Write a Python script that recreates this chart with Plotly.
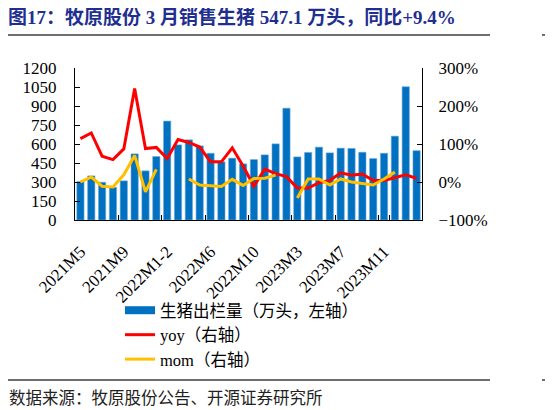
import plotly.graph_objects as go

# data
months = ["2021M5", "2021M6", "2021M7", "2021M8", "2021M9", "2021M10", "2021M11", "2021M12",
          "2022M1-2", "2022M3", "2022M4", "2022M5", "2022M6", "2022M7", "2022M8", "2022M9",
          "2022M10", "2022M11", "2022M12", "2023M1-2", "2023M3", "2023M4", "2023M5", "2023M6",
          "2023M7", "2023M8", "2023M9", "2023M10", "2023M11", "2023M12", "2024M1-2", "2024M3"]
sales = [303, 348, 298, 258, 309, 522, 388, 501, 781, 593, 633, 585, 527, 459, 488, 443,
         477, 514, 601, 883, 498, 533, 575, 530, 567, 565, 535, 485, 527, 662, 1052, 547.1]
yoy = [114, 129, 68, 59, 87, 246, 88, 91, 62, 112, 104, 92, 53, 53, 90, 42,
       -11, 34, 22, 14, -16, -16, -2, 4, 24, 18, 21, 4, 4, 12, 19, 9.4]
mom = [0, 13, -11, -13, 19, 70, -26, 33, None, None, 8, -8, -10, -12, 7, -9,
       9, 10, 18, None, -42, 8, 8, -8, 8, 0, -4, -8, 8, 26, None, None]
x_labels = months[::4]

title = "图17：牧原股份 3 月销售生猪 547.1 万头，同比+9.4%"
source = "数据来源：牧原股份公告、开源证券研究所"

serif = "Liberation Serif, Noto Sans CJK SC"
blue = "#0070C0"
red = "#FF0000"
gold = "#FFC000"

# page has an 8px body margin, so the figure is drawn 8px smaller and shifted
OFF = 8
W, H = 553 - OFF, 410 - OFF
L, T = 75 - OFF, 68 - OFF
pw, ph = 347, 152
R, B = W - L - pw, H - T - ph


def px(x):
    # page pixel -> paper x
    return (x - OFF - L) / pw


def py(y):
    # page pixel -> paper y
    return (T + ph - (y - OFF)) / ph


fig = go.Figure()
fig.add_trace(go.Bar(x=months, y=sales, marker=dict(color=blue, line=dict(color="#6FA8DC", width=0.6)),
                     showlegend=False, yaxis="y"))
fig.add_trace(go.Scatter(x=[None], y=[None], mode="lines", line=dict(color=blue, width=8),
                         name="生猪出栏量（万头，左轴）"))
fig.add_trace(go.Scatter(x=months, y=yoy, mode="lines", line=dict(color=red, width=3),
                         name="yoy（右轴）", yaxis="y2"))
fig.add_trace(go.Scatter(x=months, y=mom, mode="lines", line=dict(color=gold, width=3),
                         name="mom（右轴）", yaxis="y2", connectgaps=False))

fig.update_layout(
    width=W, height=H,
    margin=dict(l=L, r=R, t=T, b=B),
    paper_bgcolor="white", plot_bgcolor="white",
    font=dict(family=serif, size=17, color="black"),
    bargap=0.33,
    title=dict(text=title, x=(8 - OFF) / W, xanchor="left", y=1 - (17 - OFF) / H, yanchor="middle",
               xref="container", yref="container",
               font=dict(family=serif, size=19, color="#1F2F8F", weight="bold")),
    xaxis=dict(type="category", tickmode="array", tickvals=x_labels, ticktext=x_labels,
               tickangle=-45, tickson="boundaries", ticks="inside", ticklen=5,
               tickcolor="black", showline=True, linecolor="black", linewidth=1,
               showgrid=False, tickfont=dict(size=17), ticklabelstandoff=14),
    yaxis=dict(range=[0, 1200], dtick=150, ticks="inside", ticklen=5, tickcolor="black",
               showline=True, linecolor="black", linewidth=1, showgrid=False,
               zeroline=False, ticklabelstandoff=14),
    yaxis2=dict(range=[-100, 300], dtick=100, ticksuffix="%", overlaying="y", side="right",
                ticks="inside", ticklen=5, tickcolor="black", showline=True,
                linecolor="black", linewidth=1, showgrid=False, zeroline=False,
                ticklabelstandoff=12),
    legend=dict(x=px(120), xanchor="left", y=py(293), yanchor="top",
                font=dict(family=serif, size=16.5), tracegroupgap=0, bgcolor="rgba(0,0,0,0)"),
)

# header / footer rules
for y in (35, 380):
    fig.add_shape(type="line", xref="paper", yref="paper", x0=px(5), x1=px(490),
                  y0=py(y), y1=py(y), line=dict(color="#6E6E6E", width=2))
    fig.add_shape(type="line", xref="paper", yref="paper", x0=px(542), x1=px(553),
                  y0=py(y), y1=py(y), line=dict(color="#6E6E6E", width=2))

fig.add_annotation(text=source, xref="paper", yref="paper", x=px(7), y=py(397),
                   xanchor="left", yanchor="middle", showarrow=False,
                   font=dict(family="Noto Sans CJK SC", size=16.5, color="#222222"))

fig.write_html("out.html")
